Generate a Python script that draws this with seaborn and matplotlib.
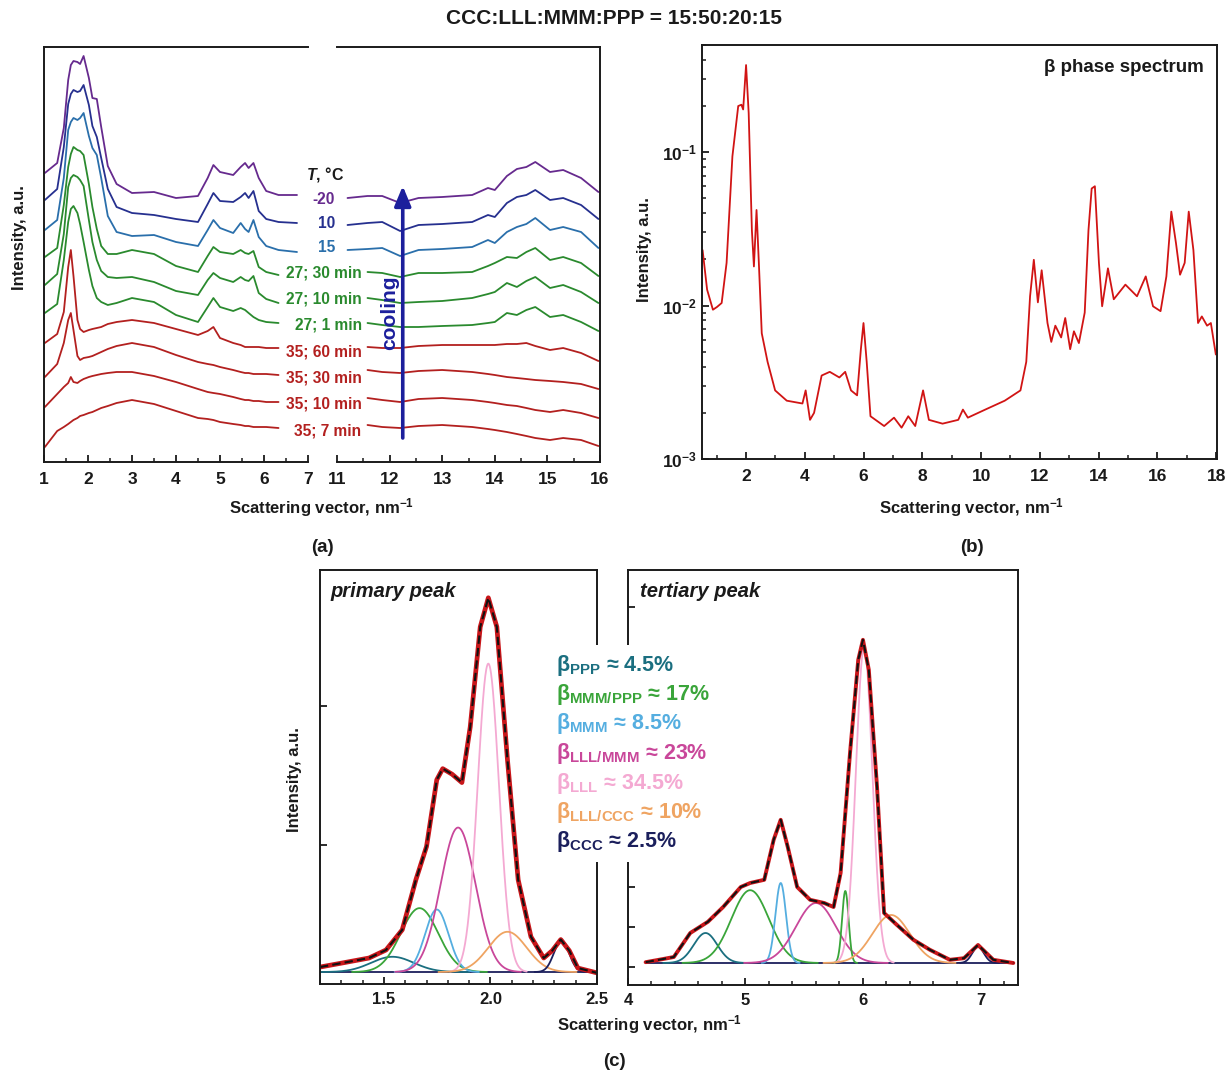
import numpy as np
import pandas as pd
import matplotlib
matplotlib.use("Agg")
import matplotlib.pyplot as plt
from matplotlib.patches import Rectangle
from matplotlib.ticker import (MultipleLocator, FixedLocator, NullFormatter,
                               LogLocator, FormatStrFormatter)
import seaborn as sns

# ---------------------------------------------------------------- data
# (a) stacked scattering patterns: small-angle segment and wide-angle segment
Q_SAXS = [1.02, 1.30, 1.45, 1.55, 1.61, 1.67, 1.76, 1.82, 1.90, 2.02, 2.10,
          2.20, 2.30, 2.45, 2.65, 3.00, 3.50, 4.00, 4.50, 4.72, 4.85, 5.00,
          5.30, 5.47, 5.57, 5.65, 5.76, 5.88, 6.05, 6.33, 6.75]
Q_WAXS = [11.2, 11.58, 11.86, 12.2, 12.55, 13.0, 13.57, 13.87, 14.0, 14.23,
          14.42, 14.6, 14.77, 15.05, 15.3, 15.64, 15.97]
nan = np.nan

SAXS_M20 = [28.9, 29.9, 33.4, 38.2, 39.7, 40.1, 40.0, 39.8, 40.6, 38.4, 36.4, 36.3, 33.5, 29.6, 27.8, 26.9, 27.0, 26.4, 26.6, 28.4, 29.7, 29.0, 28.7, 29.5, 29.9, 29.4, 29.9, 28.4, 27.1, 26.7, 26.7]
SAXS_10 = [26.2, 27.3, 31.5, 35.8, 36.8, 37.2, 37.0, 37.1, 37.7, 35.7, 33.6, 32.5, 30.4, 27.3, 25.5, 24.9, 24.7, 24.3, 24.0, 25.8, 26.9, 26.1, 26.0, 26.5, 26.9, 26.4, 27.1, 25.1, 24.3, 24.0, 23.9]
SAXS_15 = [23.2, 24.2, 28.4, 33.2, 34.0, 34.4, 34.2, 34.4, 34.9, 32.6, 31.4, 30.7, 28.4, 24.6, 23.0, 22.6, 22.7, 22.0, 21.6, 23.2, 24.2, 23.4, 22.9, 23.9, 23.3, 23.0, 24.2, 22.5, 21.6, 21.2, 21.0]
SAXS_27_30 = [20.5, 21.4, 25.7, 29.5, 30.8, 31.5, 31.2, 31.1, 30.7, 27.8, 25.5, 23.3, 21.6, 20.8, 20.8, 21.2, 20.8, 19.6, 19.0, 20.6, 21.5, 21.0, 20.8, 21.2, 20.9, 20.8, 21.1, 19.5, 19.0, 18.7, nan]
SAXS_27_10 = [17.7, 18.8, 22.8, 27.5, 28.4, 28.7, 28.5, 28.2, 27.6, 24.2, 22.0, 20.2, 19.1, 18.5, 18.4, 18.5, 18.0, 17.1, 16.7, 18.2, 18.9, 18.4, 18.0, 18.5, 18.2, 18.1, 18.6, 16.9, 16.3, 15.9, nan]
SAXS_27_1 = [14.9, 15.8, 20.2, 24.0, 25.3, 25.6, 24.9, 23.8, 22.0, 19.2, 17.6, 16.4, 16.0, 15.7, 15.9, 16.4, 16.0, 14.7, 14.0, 15.5, 16.4, 15.5, 15.1, 15.4, 15.2, 14.9, 14.5, 14.2, 14.0, 13.9, nan]
SAXS_35_60 = [11.9, 12.8, 15.0, 19.5, 21.2, 18.6, 14.2, 13.3, 13.0, 13.2, 13.3, 13.4, 13.5, 13.8, 14.0, 14.2, 13.9, 13.3, 12.7, 13.1, 13.5, 12.4, 11.9, 11.7, 11.5, 11.5, 11.5, 11.5, 11.4, 11.4, nan]
SAXS_35_30 = [8.5, 9.8, 11.9, 14.2, 14.9, 13.2, 10.6, 10.2, 10.4, 10.5, 10.6, 10.8, 11.0, 11.3, 11.6, 11.9, 11.5, 10.7, 10.0, 9.8, 9.7, 9.5, 9.2, 9.0, 8.9, 8.9, 8.8, 8.8, 8.8, 8.7, nan]
SAXS_35_10 = [5.5, 6.8, 7.5, 7.9, 8.5, 8.0, 7.9, 8.1, 8.3, 8.5, 8.6, 8.7, 8.8, 8.9, 9.0, 9.0, 8.6, 8.0, 7.3, 7.0, 6.9, 6.8, 6.5, 6.3, 6.2, 6.2, 6.1, 6.1, 6.0, 6.0, nan]
SAXS_35_7 = [1.5, 3.1, 3.5, 3.8, 4.0, 4.2, 4.4, 4.6, 4.7, 4.9, 5.0, 5.2, 5.4, 5.6, 5.9, 6.2, 5.8, 5.1, 4.4, 4.3, 4.2, 4.0, 3.8, 3.7, 3.6, 3.6, 3.5, 3.5, 3.5, 3.4, nan]

WAXS_M20 = [26.4, 26.6, 26.6, 25.9, 26.4, 26.5, 26.7, 27.4, 27.2, 28.6, 29.3, 29.5, 30.0, 29.0, 29.2, 28.4, 27.0]
WAXS_10 = [23.7, 23.9, 24.0, 23.1, 23.7, 23.8, 24.0, 24.7, 24.5, 25.9, 26.5, 26.7, 27.2, 26.2, 26.4, 25.7, 24.3]
WAXS_15 = [21.2, 21.3, 21.4, 20.6, 21.2, 21.3, 21.5, 22.2, 21.9, 23.0, 23.5, 23.8, 24.4, 23.2, 23.5, 23.0, 21.4]
WAXS_27_30 = [nan, 19.0, 18.9, 18.5, 18.9, 18.9, 19.0, 19.6, 19.9, 20.5, 20.4, 21.0, 21.4, 20.2, 20.5, 19.9, 18.6]
WAXS_27_10 = [nan, 16.4, 16.2, 15.9, 16.0, 16.1, 16.4, 16.8, 17.0, 17.9, 17.5, 18.1, 18.5, 17.4, 17.7, 17.0, 15.9]
WAXS_27_1 = [nan, 13.9, 13.7, 13.5, 13.5, 13.6, 13.7, 13.9, 14.0, 14.9, 14.7, 15.2, 15.5, 14.5, 14.7, 14.0, 13.1]
WAXS_35_60 = [nan, 11.5, 11.4, 11.4, 11.6, 11.7, 11.7, 11.7, 11.7, 11.8, 11.8, 11.9, 11.6, 11.2, 11.4, 10.9, 10.1]
WAXS_35_30 = [nan, 9.2, 9.0, 8.9, 9.1, 9.2, 9.0, 8.8, 8.7, 8.5, 8.4, 8.3, 8.2, 8.1, 8.0, 7.8, 7.3]
WAXS_35_10 = [nan, 6.4, 6.2, 6.0, 6.3, 6.4, 6.2, 6.0, 5.9, 5.7, 5.6, 5.4, 5.2, 5.0, 5.2, 4.9, 4.4]
WAXS_35_7 = [nan, 3.7, 3.5, 3.4, 3.6, 3.7, 3.5, 3.3, 3.2, 3.0, 2.8, 2.6, 2.4, 2.2, 2.4, 2.2, 1.6]

CURVE_LABELS = ["-20", "10", "15", "27; 30 min", "27; 10 min", "27; 1 min",
                "35; 60 min", "35; 30 min", "35; 10 min", "35; 7 min"]
SAXS_CURVES = [SAXS_M20, SAXS_10, SAXS_15, SAXS_27_30, SAXS_27_10, SAXS_27_1,
               SAXS_35_60, SAXS_35_30, SAXS_35_10, SAXS_35_7]
WAXS_CURVES = [WAXS_M20, WAXS_10, WAXS_15, WAXS_27_30, WAXS_27_10, WAXS_27_1,
               WAXS_35_60, WAXS_35_30, WAXS_35_10, WAXS_35_7]

# (b) beta-phase spectrum (log intensity)
Q_BETA = [0.52, 0.674, 0.872, 1.011, 1.169, 1.337, 1.535, 1.733, 1.842, 1.901,
          2.0, 2.089, 2.198, 2.267, 2.356, 2.435, 2.534, 2.732, 2.989, 3.385,
          3.919, 4.028, 4.177, 4.315, 4.572, 4.849, 5.176, 5.374, 5.572, 5.779,
          5.908, 5.997, 6.106, 6.235, 6.70, 7.036, 7.293, 7.521, 7.758, 8.025,
          8.223, 8.688, 9.223, 9.381, 9.549, 10.143, 10.806, 11.34, 11.538,
          11.667, 11.795, 11.933, 12.062, 12.26, 12.389, 12.527, 12.725,
          12.864, 13.032, 13.16, 13.329, 13.527, 13.655, 13.764, 13.873,
          14.011, 14.12, 14.318, 14.516, 14.912, 15.307, 15.604, 15.852,
          16.109, 16.307, 16.475, 16.633, 16.772, 16.930, 17.068, 17.227,
          17.385, 17.514, 17.692, 17.821, 17.99]
I_BETA = [0.023, 0.0127, 0.0094, 0.0098, 0.0104, 0.019, 0.094, 0.20, 0.204,
          0.19, 0.37, 0.18, 0.031, 0.018, 0.042, 0.019, 0.0066, 0.0043, 0.0028,
          0.0024, 0.0023, 0.0028, 0.0018, 0.002, 0.0035, 0.0037, 0.0034,
          0.0037, 0.0028, 0.0026, 0.0052, 0.0077, 0.0043, 0.0019, 0.00164,
          0.00186, 0.0016, 0.0019, 0.00164, 0.0028, 0.0018, 0.0017, 0.0018,
          0.0021, 0.00186, 0.0021, 0.0024, 0.0028, 0.0043, 0.0115, 0.0199,
          0.0105, 0.017, 0.0077, 0.0058, 0.0074, 0.0062, 0.0083, 0.0052,
          0.0068, 0.0057, 0.009, 0.031, 0.058, 0.06, 0.019, 0.0099, 0.0175,
          0.011, 0.0137, 0.0115, 0.0155, 0.0099, 0.0092, 0.0155, 0.041,
          0.0256, 0.0159, 0.019, 0.041, 0.023, 0.0077, 0.0085, 0.0074,
          0.0077, 0.0048]

# (c) deconvolution of the primary and tertiary peaks
PHASES = ["PPP", "MMM/PPP", "MMM", "LLL/MMM", "LLL", "LLL/CCC", "CCC"]
PHASE_SHARE = ["4.5", "17", "8.5", "23", "34.5", "10", "2.5"]

Q_PRIMARY = [1.2, 1.3, 1.43, 1.51, 1.586, 1.65, 1.70, 1.748, 1.776, 1.82,
             1.866, 1.905, 1.952, 1.99, 2.03, 2.08, 2.13, 2.19, 2.25, 2.29,
             2.33, 2.37, 2.41, 2.5]
I_PRIMARY = [0.122, 0.15, 0.187, 0.245, 0.39, 0.75, 0.99, 1.47, 1.55, 1.51,
             1.45, 1.85, 2.57, 2.78, 2.57, 1.61, 0.75, 0.34, 0.187, 0.24,
             0.32, 0.24, 0.115, 0.08]
PRIMARY_BASE = 0.086
PRIMARY_PHASE = ["PPP", "MMM/PPP", "MMM", "LLL/MMM", "LLL", "LLL/CCC", "CCC"]
PRIMARY_CENTER = [1.54, 1.667, 1.748, 1.848, 1.99, 2.08, 2.333]
PRIMARY_HEIGHT = [0.11, 0.46, 0.45, 1.04, 2.22, 0.29, 0.23]
PRIMARY_WIDTH = [0.10, 0.088, 0.055, 0.082, 0.05, 0.09, 0.035]

Q_TERTIARY = [4.15, 4.3, 4.39, 4.53, 4.68, 4.81, 4.96, 5.04, 5.16, 5.24, 5.30,
              5.36, 5.44, 5.55, 5.67, 5.75, 5.81, 5.89, 5.96, 6.00, 6.05, 6.12,
              6.18, 6.29, 6.43, 6.57, 6.74, 6.86, 6.98, 7.11, 7.28]
I_TERTIARY = [0.12, 0.2, 0.25, 0.85, 1.13, 1.5, 2.0, 2.1, 2.18, 3.18, 3.68,
              3.0, 2.0, 1.68, 1.6, 1.5, 2.35, 5.35, 7.68, 8.18, 7.43, 4.5,
              1.35, 1.05, 0.68, 0.43, 0.18, 0.22, 0.55, 0.18, 0.1]
TERTIARY_BASE = 0.1
TERTIARY_PHASE = ["PPP", "MMM/PPP", "MMM", "LLL/MMM", "MMM/PPP", "LLL",
                  "LLL/CCC", "CCC"]
TERTIARY_CENTER = [4.66, 5.04, 5.30, 5.60, 5.85, 6.01, 6.24, 6.98]
TERTIARY_HEIGHT = [0.75, 1.82, 2.0, 1.5, 1.8, 7.9, 1.2, 0.4]
TERTIARY_WIDTH = [0.10, 0.16, 0.045, 0.17, 0.028, 0.07, 0.16, 0.05]

# ---------------------------------------------------------------- style
sns.set_theme(style="ticks")
plt.rcParams.update({
    "font.family": ["Liberation Sans", "DejaVu Sans"],
    "font.weight": "bold",
    "axes.labelweight": "bold",
    "mathtext.fontset": "custom",
    "mathtext.rm": "Liberation Sans:bold",
    "mathtext.bf": "Liberation Sans:bold",
    "mathtext.it": "Liberation Sans:italic:bold",
    "mathtext.default": "bf",
    "axes.linewidth": 1.4,
    "axes.edgecolor": "#1a1a1a",
    "xtick.direction": "in",
    "ytick.direction": "in",
    "xtick.major.size": 5.0,
    "xtick.minor.size": 2.8,
    "ytick.major.size": 5.0,
    "ytick.minor.size": 2.8,
    "xtick.major.width": 1.3,
    "xtick.minor.width": 1.1,
    "ytick.major.width": 1.3,
    "ytick.minor.width": 1.1,
    "xtick.color": "#1a1a1a",
    "ytick.color": "#1a1a1a",
    "text.color": "#1a1a1a",
})

CURVE_COLORS = ["#662a8e", "#26308f", "#2a6fab", "#2a8a2e", "#2a8a2e",
                "#2a8a2e", "#b3201f", "#b3201f", "#b3201f", "#b3201f"]
CURVE_LABEL_XY = [(335, 200), (335, 223), (335, 248), (362, 273), (362, 299),
                  (362, 325), (362, 352), (362, 378), (362, 404), (361, 431)]
PHASE_COLORS = {"PPP": "#1b6f80", "MMM/PPP": "#3aa53a", "MMM": "#55aee0",
                "LLL/MMM": "#c9479a", "LLL": "#f4a9d2", "LLL/CCC": "#efa462",
                "CCC": "#1b1f5c"}
ARROW_COLOR = "#1c1f9c"

W, H = 1228, 1076
fig = plt.figure(figsize=(W / 100, H / 100), dpi=100)


def frac_box(l, t, r, b):
    return [l / W, 1 - b / H, (r - l) / W, (b - t) / H]


def put(px, py, s, **kw):
    kw.setdefault("ha", "center")
    kw.setdefault("va", "center")
    return fig.text(px / W, 1 - py / H, s, **kw)


def long_frame(q, curves):
    frame = pd.DataFrame({
        "q": np.tile(q, len(curves)),
        "I": np.concatenate([np.asarray(c, float) for c in curves]),
        "T": np.repeat(CURVE_LABELS, len(q)),
    })
    return frame.dropna()


def gaussian_frame(centers, heights, widths, base):
    parts = []
    for k, (c, h, w) in enumerate(zip(centers, heights, widths)):
        q = np.linspace(c - 3.6 * w, c + 3.6 * w, 240)
        parts.append(pd.DataFrame({"q": q,
                                   "I": base + h * np.exp(-0.5 * ((q - c) / w) ** 2),
                                   "k": k}))
    return pd.concat(parts, ignore_index=True)


palette = dict(zip(CURVE_LABELS, CURVE_COLORS))

# ---------------------------------------------------------------- panel (a)
ax_lo = fig.add_axes(frac_box(44, 47, 308, 462))
ax_hi = fig.add_axes(frac_box(337, 47, 600, 462))
sns.lineplot(data=long_frame(Q_SAXS, SAXS_CURVES), x="q", y="I", hue="T",
             hue_order=CURVE_LABELS, palette=palette, estimator=None,
             sort=False, lw=1.3, legend=False, ax=ax_lo)
sns.lineplot(data=long_frame(Q_WAXS, WAXS_CURVES), x="q", y="I", hue="T",
             hue_order=CURVE_LABELS, palette=palette, estimator=None,
             sort=False, lw=1.3, legend=False, ax=ax_hi)
for ax, lim in ((ax_lo, (1, 7)), (ax_hi, (11, 16))):
    ax.set_xlim(*lim)
    ax.set_ylim(0, 41.5)
    ax.set_yticks([])
    ax.xaxis.set_major_locator(MultipleLocator(1))
    ax.xaxis.set_minor_locator(MultipleLocator(0.5))
    ax.tick_params(axis="x", which="both", top=False, labelsize=12.5, pad=7)
    ax.set_xlabel("")
    ax.set_ylabel("")
ax_lo.spines["right"].set_visible(False)
ax_hi.spines["left"].set_visible(False)

ax_hi.annotate("", xy=(12.25, 27.6), xytext=(12.25, 2.4),
               arrowprops=dict(arrowstyle="-|>,head_length=0.6,head_width=0.25",
                               color=ARROW_COLOR, lw=2.6, mutation_scale=20,
                               shrinkA=0, shrinkB=0))
put(390, 313, "cooling", rotation=90, fontsize=15, color=ARROW_COLOR)
put(325, 175, r"$\mathit{T}$, °C", fontsize=11.5)
for lab, col, (px, py) in zip(CURVE_LABELS, CURVE_COLORS, CURVE_LABEL_XY):
    put(px, py, lab, ha="right", fontsize=11.2, color=col)

put(20, 238, "Intensity, a.u.", rotation=90, fontsize=12)
put(322, 508, "Scattering vector, nm$^{-1}$", fontsize=12)
put(322, 548, "(a)", fontsize=13.5)
put(614, 18, "CCC:LLL:MMM:PPP = 15:50:20:15", fontsize=15)

# ---------------------------------------------------------------- panel (b)
ax_b = fig.add_axes(frac_box(702, 45, 1217, 459))
sns.lineplot(x=Q_BETA, y=I_BETA, color="#d11414", lw=1.3, estimator=None,
             sort=False, ax=ax_b)
ax_b.set_yscale("log")
ax_b.set_xlim(0.5, 18.03)
ax_b.set_ylim(1e-3, 0.5)
ax_b.xaxis.set_major_locator(MultipleLocator(2))
ax_b.xaxis.set_minor_locator(MultipleLocator(1))
ax_b.yaxis.set_major_locator(FixedLocator([1e-3, 1e-2, 1e-1]))
ax_b.yaxis.set_minor_locator(LogLocator(base=10, subs=np.arange(2, 10), numticks=20))
ax_b.yaxis.set_minor_formatter(NullFormatter())
ax_b.tick_params(which="both", top=False, right=False, labelsize=12.5)
ax_b.tick_params(axis="x", pad=7)
ax_b.set_xlabel("")
ax_b.set_ylabel("")
ax_b.text(0.975, 0.945, "β phase spectrum", transform=ax_b.transAxes,
          ha="right", va="center", fontsize=13.5)
put(645, 250, "Intensity, a.u.", rotation=90, fontsize=12)
put(972, 508, "Scattering vector, nm$^{-1}$", fontsize=12)
put(972, 548, "(b)", fontsize=13.5)

# ---------------------------------------------------------------- panel (c)
ax_p = fig.add_axes(frac_box(320, 570, 597, 984))
ax_t = fig.add_axes(frac_box(628, 570, 1018, 985))

for ax, q, prof, base, phases, cen, hei, wid, red_lw in (
        (ax_p, Q_PRIMARY, I_PRIMARY, PRIMARY_BASE, PRIMARY_PHASE,
         PRIMARY_CENTER, PRIMARY_HEIGHT, PRIMARY_WIDTH, 3.4),
        (ax_t, Q_TERTIARY, I_TERTIARY, TERTIARY_BASE, TERTIARY_PHASE,
         TERTIARY_CENTER, TERTIARY_HEIGHT, TERTIARY_WIDTH, 2.8)):
    sns.lineplot(x=[q[0], q[-1]], y=[base, base], color=PHASE_COLORS["CCC"],
                 lw=1.3, estimator=None, ax=ax)
    comp = gaussian_frame(cen, hei, wid, base)
    sns.lineplot(data=comp, x="q", y="I", hue="k",
                 palette=[PHASE_COLORS[p] for p in phases], estimator=None,
                 sort=False, lw=1.3, legend=False, ax=ax)
    sns.lineplot(x=q, y=prof, color="#c8161a", lw=red_lw, estimator=None,
                 sort=False, ax=ax)
    sns.lineplot(x=q, y=prof, color="#111111", lw=1.5, estimator=None,
                 sort=False, dashes=False, ax=ax).lines[-1].set_dashes((4, 2))
    ax.set_xlabel("")
    ax.set_ylabel("")
    ax.yaxis.set_major_formatter(NullFormatter())
    ax.tick_params(which="both", top=False, right=False, labelsize=12, pad=6)

ax_p.set_xlim(1.2, 2.5)
ax_p.set_ylim(0, 2.98)
ax_p.xaxis.set_major_locator(MultipleLocator(0.5))
ax_p.xaxis.set_minor_locator(MultipleLocator(0.1))
ax_p.xaxis.set_major_formatter(FormatStrFormatter("%.1f"))
ax_p.yaxis.set_major_locator(FixedLocator([1, 2]))

ax_t.set_xlim(4, 7.32)
ax_t.set_ylim(-0.45, 9.925)
ax_t.xaxis.set_major_locator(MultipleLocator(1))
ax_t.xaxis.set_minor_locator(MultipleLocator(0.2))
ax_t.yaxis.set_major_locator(FixedLocator(list(range(10))))

ax_p.text(0.036, 0.947, "primary peak", transform=ax_p.transAxes,
          ha="left", va="center", fontsize=14.5, fontstyle="italic")
ax_t.text(0.031, 0.947, "tertiary peak", transform=ax_t.transAxes,
          ha="left", va="center", fontsize=14.5, fontstyle="italic")

fig.patches.append(Rectangle(((548) / W, 1 - 862 / H), (708 - 548) / W,
                             (862 - 645) / H, transform=fig.transFigure,
                             facecolor="white", edgecolor="none", zorder=5))
for k, (ph, share) in enumerate(zip(PHASES, PHASE_SHARE)):
    put(556, 665 + 29.5 * k, f"β$_{{{ph}}}$ ≈ {share}%", ha="left",
        fontsize=15.5, color=PHASE_COLORS[ph], zorder=6)

put(295, 780, "Intensity, a.u.", rotation=90, fontsize=12)
put(650, 1025, "Scattering vector, nm$^{-1}$", fontsize=12)
put(614, 1062, "(c)", fontsize=13.5)

fig.savefig("out.png", dpi=100, facecolor="white")
